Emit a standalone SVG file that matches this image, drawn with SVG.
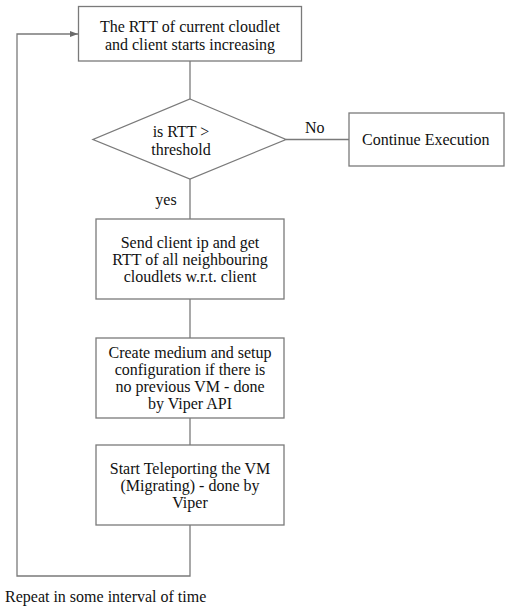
<svg xmlns="http://www.w3.org/2000/svg" width="505" height="608" viewBox="0 0 505 608">
<defs>
<style>
.box{fill:#fff;stroke:#7a7a7a;stroke-width:1.3}
.ln{fill:none;stroke:#7a7a7a;stroke-width:1.3}
.c{text-anchor:middle}
</style>
<marker id="ah" markerWidth="8" markerHeight="6" refX="8" refY="3" orient="auto" markerUnits="userSpaceOnUse">
<path d="M0,0 L8,3 L0,6 Z" fill="#6a6a6a"/>
</marker>
</defs>
<rect width="505" height="608" fill="#fff"/>
<g font-family="Liberation Serif" font-size="16" fill="#111">
<g id="connectors">
<line class="ln" x1="190" y1="61" x2="190" y2="99"/>
<line class="ln" x1="286" y1="139.5" x2="349" y2="139.5"/>
<line class="ln" x1="190" y1="179" x2="190" y2="219"/>
<line class="ln" x1="190" y1="299" x2="190" y2="338"/>
<line class="ln" x1="190" y1="418" x2="190" y2="445"/>
<polyline class="ln" points="190,525 190,576 17,576 17,34 78,34" marker-end="url(#ah)"/>
<text x="305" y="133">No</text>
<text class="c" x="166" y="205">yes</text>
<text x="5" y="602">Repeat in some interval of time</text>
</g>
<g id="start">
<rect class="box" x="78.5" y="6.5" width="223" height="54.5"/>
<text class="c" x="190" y="32">The RTT of current cloudlet</text>
<text class="c" x="190" y="50">and client starts increasing</text>
</g>
<g id="decision">
<polygon class="box" points="190,99 286,139.5 190,179 93,139.5"/>
<text class="c" x="181" y="137">is RTT &gt;</text>
<text class="c" x="181" y="155">threshold</text>
</g>
<g id="continue">
<rect class="box" x="349" y="113" width="155" height="53"/>
<text x="362" y="145">Continue Execution</text>
</g>
<g id="send">
<rect class="box" x="96" y="219" width="188" height="80"/>
<text class="c" x="190" y="248">Send client ip and get</text>
<text class="c" x="190" y="265">RTT of all neighbouring</text>
<text class="c" x="190" y="282">cloudlets w.r.t. client</text>
</g>
<g id="create">
<rect class="box" x="96" y="338" width="188" height="80"/>
<text class="c" x="190" y="358">Create medium and setup</text>
<text class="c" x="190" y="375">configuration if there is</text>
<text class="c" x="190" y="392">no previous VM - done</text>
<text class="c" x="190" y="409">by Viper API</text>
</g>
<g id="teleport">
<rect class="box" x="96" y="445" width="188" height="80"/>
<text class="c" x="190" y="474">Start Teleporting the VM</text>
<text class="c" x="190" y="491">(Migrating) - done by</text>
<text class="c" x="190" y="508">Viper</text>
</g>
</g>
</svg>
